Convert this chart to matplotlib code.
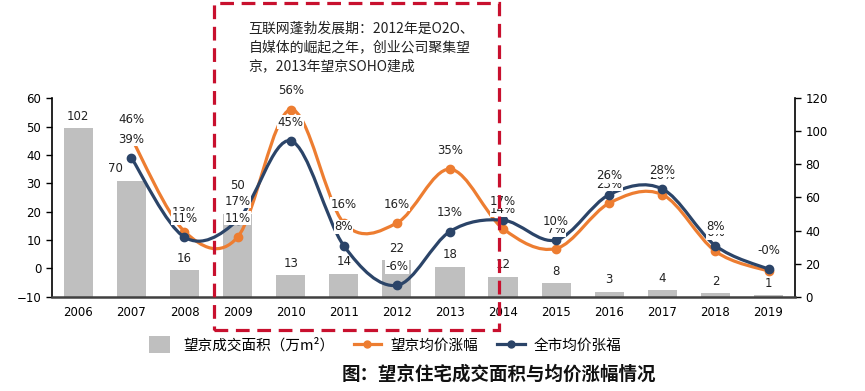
import matplotlib
matplotlib.use("Agg")
import matplotlib.pyplot as plt
from matplotlib.path import Path
from matplotlib.patches import PathPatch, Rectangle, Patch
from matplotlib.lines import Line2D
from matplotlib.legend_handler import HandlerPatch

plt.rcParams['font.family'] = ['DejaVu Sans', 'Noto Sans CJK SC']

years = ['2006', '2007', '2008', '2009', '2010', '2011', '2012', '2013',
         '2014', '2015', '2016', '2017', '2018', '2019']
area = [102, 70, 16, 50, 13, 14, 22, 18, 12, 8, 3, 4, 2, 1]
wj_years = years[1:]
wj_growth = [46, 13, 11, 56, 16, 16, 35, 14, 7, 23, 26, 6, -1]
city_growth = [39, 11, 17, 45, 8, -6, 13, 17, 10, 26, 28, 8, -0.3]

bar_label = '望京成交面积（万m²）'
wj_label = '望京均价涨幅'
city_label = '全市均价张福'
title = '图：望京住宅成交面积与均价涨幅情况'
note = '互联网蓬勃发展期：2012年是O2O、\n自媒体的崛起之年，创业公司聚集望\n京，2013年望京SOHO建成'

GRAY = '#BFBFBF'
ORANGE = '#ED7D31'
NAVY = '#2B4468'
RED = '#C8102E'
CJK = ['Noto Sans CJK SC', 'DejaVu Sans']

fig = plt.figure(figsize=(8.65, 3.91), dpi=100)
ax = fig.add_axes([0.0598, 0.2412, 0.9192 - 0.0598, 0.7486 - 0.2412])
ax2 = ax.twinx()
ax.set_zorder(ax2.get_zorder() + 1)
ax.patch.set_visible(False)

xi = list(range(len(years)))
ax2.bar(xi, area, width=0.55, color=GRAY, zorder=1)
bar_off = {1: (-16, 12), 3: (0, 29)}
for i, v in zip(xi, area):
    dx, dy = bar_off.get(i, (0, 12))
    ax2.annotate(str(v), (i, v), xytext=(dx * 0.72, dy * 0.72), textcoords='offset points',
                 ha='center', va='center', fontsize=8.5, color='#222222',
                 bbox=dict(facecolor='white', edgecolor='none', pad=0.3), zorder=3)


def smooth_path(x, y):
    pts = list(zip(x, y))
    n = len(pts)
    verts = [pts[0]]
    codes = [Path.MOVETO]
    for i in range(n - 1):
        p0 = pts[i - 1] if i > 0 else pts[i]
        p1 = pts[i]
        p2 = pts[i + 1]
        p3 = pts[i + 2] if i + 2 < n else pts[i + 1]
        c1 = (p1[0] + (p2[0] - p0[0]) / 6, p1[1] + (p2[1] - p0[1]) / 6)
        c2 = (p2[0] - (p3[0] - p1[0]) / 6, p2[1] - (p3[1] - p1[1]) / 6)
        verts += [c1, c2, p2]
        codes += [Path.CURVE4] * 3
    return Path(verts, codes)


lx = xi[1:]
for vals, col, z in [(wj_growth, ORANGE, 4), (city_growth, NAVY, 5)]:
    ax.add_patch(PathPatch(smooth_path(lx, vals), facecolor='none', edgecolor=col, lw=2.3, zorder=z))
    ax.plot(lx, vals, linestyle='none', marker='o', markersize=6, color=col, zorder=z)

for vals, z in [(wj_growth, 6), (city_growth, 7)]:
    for i, v in zip(lx, vals):
        ax.annotate(f'{v:.0f}%', (i, v), xytext=(0, 13.5), textcoords='offset points',
                    ha='center', va='center', fontsize=8.5, color='#222222',
                    bbox=dict(facecolor='white', edgecolor='none', pad=0.3), zorder=z)

ax.set_xlim(-0.5, len(years) - 0.5)
ax.set_ylim(-10, 60)
ax.set_yticks(range(-10, 61, 10))
ax2.set_ylim(0, 120)
ax2.set_yticks(range(0, 121, 20))
ax.set_xticks(xi)
ax.set_xticklabels(years)
ax.tick_params(axis='x', length=0, pad=7, labelsize=8.5)
ax.tick_params(axis='y', direction='out', length=4, labelsize=8.5, width=1)
ax2.tick_params(axis='y', direction='out', length=4, labelsize=8.5, width=1)
for a in (ax, ax2):
    a.spines['top'].set_visible(False)
ax.spines['right'].set_visible(False)
ax2.spines['left'].set_visible(False)
ax.spines['bottom'].set_linewidth(1.8)
ax.spines['bottom'].set_color('#404040')
ax2.spines['bottom'].set_visible(False)
ax.spines['left'].set_linewidth(1.2)
ax2.spines['right'].set_linewidth(1.2)

# dashed highlight box
fig.add_artist(Rectangle((0.2474, 0.156), 0.5769 - 0.2474, 0.9923 - 0.156, transform=fig.transFigure,
                         fill=False, edgecolor=RED, lw=2.3, linestyle=(0, (4.3, 2.4)), zorder=10))
fig.text(0.287, 0.945, note, ha='left', va='top', fontsize=10, family=CJK, color='#222222',
         linespacing=1.45)


def make_rect(legend, orig_handle, xdescent, ydescent, width, height, fontsize):
    return Rectangle((-xdescent + width * 0.06, -ydescent - height * 0.3), width * 0.78, height * 1.6)


handles = [Patch(facecolor=GRAY, edgecolor='none'),
           Line2D([], [], color=ORANGE, lw=2.3, marker='o', markersize=5),
           Line2D([], [], color=NAVY, lw=2.3, marker='o', markersize=5)]
fig.legend(handles, [bar_label, wj_label, city_label], loc='center', bbox_to_anchor=(0.444, 0.117),
           ncol=3, frameon=False, prop={'family': CJK, 'size': 10.5}, handlelength=1.9,
           columnspacing=1.3, handletextpad=0.6,
           handler_map={Patch: HandlerPatch(patch_func=make_rect)})

fig.text(0.577, 0.043, title, ha='center', va='center', fontsize=13.3, fontweight='bold', family=CJK,
         color='#111111')

fig.savefig('out.png', dpi=100)
